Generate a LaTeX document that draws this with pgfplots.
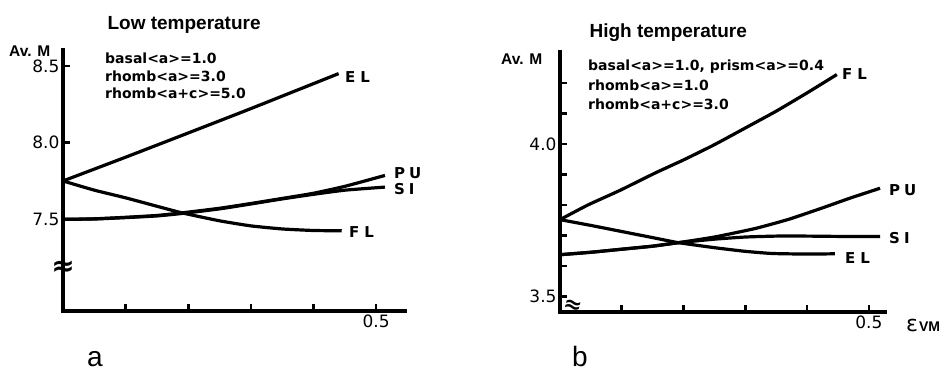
\documentclass[border=0pt]{standalone}
\usepackage{pgfplots}
\pgfplotsset{compat=1.18}
\usepackage{fontspec}
\setmainfont{Liberation Sans}
\newfontfamily\djvb{DejaVu Sans}
\begin{document}
\begin{tikzpicture}
\useasboundingbox (0pt,0pt) rectangle (949pt,-374pt);
\pgfplotsset{
 myax/.style={
  scale only axis, axis x line=bottom, axis y line=left,
  axis line style={draw=none},
  major tick style={line width=2.6pt, black},
  minor tick style={line width=2.6pt, black},
  tick align=inside,
  major tick length=7pt, minor tick length=7pt,
  xmin=0, clip=false, anchor=south west,
  ticklabel style={font=\djvb\fontsize{17}{17}\selectfont},
  xtick={0.1,0.2,0.3,0.4,0.5}, xticklabels={,,,,0.5},
  every axis plot post/.append style={line width=3.2pt, black, mark=none, smooth, tension=0.3}
 }
}
% ---------------- panel a ----------------
\begin{axis}[myax, at={(63pt,-311pt)}, width=342pt, height=261pt,
  xmax=0.546, ymin=6.902, ymax=8.604,
  ytick={7.5,8.0,8.5}, yticklabels={7.5,8.0,8.5}]
\draw[line width=3.4pt, line cap=rect] (rel axis cs:0,1) -- (rel axis cs:0,0) -- (rel axis cs:1,0);
\addplot coordinates {(0,7.75) (0.1,7.905) (0.2,8.063) (0.3,8.222) (0.44,8.45)};
\addplot coordinates {(0,7.75) (0.05,7.69) (0.1,7.64) (0.15,7.585) (0.19,7.542) (0.25,7.49) (0.3,7.457) (0.35,7.437) (0.4,7.427) (0.445,7.425)};
\addplot coordinates {(0,7.5) (0.05,7.503) (0.1,7.513) (0.15,7.525) (0.19,7.542) (0.25,7.572) (0.3,7.603) (0.35,7.636) (0.4,7.67) (0.45,7.715) (0.514,7.786)};
\addplot coordinates {(0,7.5) (0.05,7.502) (0.1,7.511) (0.15,7.522) (0.19,7.538) (0.25,7.568) (0.3,7.6) (0.35,7.633) (0.4,7.663) (0.45,7.69) (0.514,7.71)};
\node[font=\djvb\bfseries\fontsize{28}{28}\selectfont, inner sep=0pt] at (axis cs:0,7.18) {≈};
\end{axis}
% ---------------- panel b ----------------
\begin{axis}[myax, at={(560pt,-312pt)}, width=325pt, height=260pt,
  xmax=0.526, ymin=3.449, ymax=4.302,
  ytick={3.5,4.0}, yticklabels={3.5,4.0},
  minor ytick={3.6,3.7,3.8,3.9,4.1,4.2}]
\draw[line width=3.4pt, line cap=rect] (rel axis cs:0,1) -- (rel axis cs:0,0) -- (rel axis cs:1,0);
\addplot coordinates {(0,3.752) (0.045,3.80) (0.097,3.848) (0.154,3.905) (0.2,3.948) (0.25,3.998) (0.302,4.055) (0.35,4.108) (0.4,4.168) (0.448,4.228)};
\addplot coordinates {(0,3.752) (0.05,3.733) (0.1,3.713) (0.15,3.693) (0.19,3.677) (0.25,3.66) (0.3,3.648) (0.343,3.641) (0.4,3.639) (0.445,3.64)};
\addplot coordinates {(0,3.637) (0.05,3.645) (0.1,3.655) (0.15,3.665) (0.19,3.676) (0.25,3.695) (0.316,3.723) (0.37,3.753) (0.424,3.79) (0.47,3.823) (0.518,3.855)};
\addplot coordinates {(0,3.637) (0.05,3.645) (0.1,3.655) (0.15,3.665) (0.19,3.676) (0.25,3.688) (0.3,3.695) (0.35,3.698) (0.4,3.698) (0.45,3.697) (0.518,3.697)};
\node[font=\djvb\bfseries\fontsize{22}{22}\selectfont, inner sep=0pt, rotate=-15] at (axis cs:0.021,3.466) {≈};
\end{axis}
% ---------------- texts ----------------
\node[anchor=west, font=\bfseries\fontsize{19}{19}\selectfont] at (104pt,-25pt) {Low temperature};
\node[anchor=west, font=\bfseries\fontsize{15.5}{15.5}\selectfont, inner sep=0pt] at (9pt,-51pt) {Av. M};
\node[anchor=west, font=\djvb\bfseries\fontsize{14}{14}\selectfont, inner sep=0pt] at (105pt,-58pt) {basal<a>=1.0};
\node[anchor=west, font=\djvb\bfseries\fontsize{14}{14}\selectfont, inner sep=0pt] at (105pt,-76pt) {rhomb<a>=3.0};
\node[anchor=west, font=\djvb\bfseries\fontsize{14}{14}\selectfont, inner sep=0pt] at (105pt,-93pt) {rhomb<a+c>=5.0};
\node[anchor=west, font=\djvb\bfseries\fontsize{15}{15}\selectfont, inner sep=0pt] at (345pt,-77pt) {E\hspace{5pt}L};
\node[anchor=west, font=\djvb\bfseries\fontsize{15}{15}\selectfont, inner sep=0pt] at (394pt,-173pt) {P\hspace{4pt}U};
\node[anchor=west, font=\djvb\bfseries\fontsize{15}{15}\selectfont, inner sep=0pt] at (394pt,-189pt) {S\hspace{4pt}I};
\node[anchor=west, font=\djvb\bfseries\fontsize{15}{15}\selectfont, inner sep=0pt] at (349pt,-232pt) {F\hspace{5pt}L};
\node[anchor=base, font=\fontsize{28}{28}\selectfont, inner sep=0pt] at (95pt,-366pt) {a};
%
\node[anchor=west, font=\bfseries\fontsize{19}{19}\selectfont] at (586pt,-33pt) {High temperature};
\node[anchor=west, font=\bfseries\fontsize{15.5}{15.5}\selectfont, inner sep=0pt] at (501pt,-59pt) {Av. M};
\node[anchor=west, font=\djvb\bfseries\fontsize{14}{14}\selectfont, inner sep=0pt] at (588pt,-67pt) {basal<a>=1.0, prism<a>=0.4};
\node[anchor=west, font=\djvb\bfseries\fontsize{14}{14}\selectfont, inner sep=0pt] at (588pt,-85pt) {rhomb<a>=1.0};
\node[anchor=west, font=\djvb\bfseries\fontsize{14}{14}\selectfont, inner sep=0pt] at (588pt,-104pt) {rhomb<a+c>=3.0};
\node[anchor=west, font=\djvb\bfseries\fontsize{15}{15}\selectfont, inner sep=0pt] at (842pt,-74pt) {F\hspace{5pt}L};
\node[anchor=west, font=\djvb\bfseries\fontsize{15}{15}\selectfont, inner sep=0pt] at (889pt,-190pt) {P\hspace{4pt}U};
\node[anchor=west, font=\djvb\bfseries\fontsize{15}{15}\selectfont, inner sep=0pt] at (889pt,-238pt) {S\hspace{4pt}I};
\node[anchor=west, font=\djvb\bfseries\fontsize{15}{15}\selectfont, inner sep=0pt] at (845pt,-258pt) {E\hspace{5pt}L};
\node[anchor=west, inner sep=0pt] at (906pt,-325pt) {{\djvb\fontsize{22}{22}\selectfont ε}\hspace{1pt}{\bfseries\fontsize{14}{14}\selectfont VM}};
\node[anchor=base, font=\fontsize{28}{28}\selectfont, inner sep=0pt] at (580pt,-366pt) {b};
\end{tikzpicture}
\end{document}
